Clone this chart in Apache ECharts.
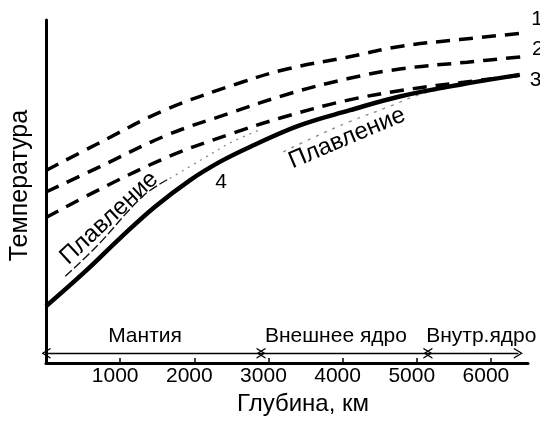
<!DOCTYPE html>
<html>
<head>
<meta charset="utf-8">
<script src="https://cdn.jsdelivr.net/npm/echarts@6/dist/echarts.min.js"></script>
<style>
  html, body { margin: 0; padding: 0; background: #fff; }
  #chart { width: 540px; height: 421px; }
</style>
</head>
<body>
<div id="chart"></div>
<script>
// Depth (km) / temperature profiles through the Earth
const depthTicks = [1000, 2000, 3000, 4000, 5000, 6000];

// curve 1 (dashed)
const curve1Depth = [0, 690, 1600, 2660, 3250, 4060, 4770, 5580, 6490];
const curve1Temp  = [3930, 4470, 5160, 5740, 6000, 6240, 6460, 6600, 6740];
// curve 2 (dashed)
const curve2Depth = [0, 730, 1630, 2480, 3290, 4060, 4770, 5680, 6500];
const curve2Temp  = [3490, 4010, 4650, 5100, 5500, 5800, 6000, 6140, 6260];
// curve 3 (dashed)
const curve3Depth = [0, 730, 1650, 2480, 3160, 4060, 4950, 5580, 6390];
const curve3Temp  = [2970, 3550, 4210, 4670, 5000, 5360, 5600, 5720, 5870];
// curve 4 (solid)
const curve4Depth = [0, 530, 1000, 1470, 1940, 2350, 2750, 3420, 4100, 4770, 5580, 6390];
const curve4Temp  = [1160, 1870, 2550, 3190, 3730, 4110, 4410, 4850, 5160, 5440, 5680, 5880];
// melting curve in the mantle: inked part under the caption, then faint part
const meltMantleDepth = [260, 700, 1310, 1670, 2120, 2480, 2900];
const meltMantleTemp  = [1770, 2410, 3410, 3770, 4170, 4490, 4770];
const meltMantleInked = 4; // number of points in the inked part
// melting curve in the core
const meltCoreDepth = [3200, 3560, 4100, 4640, 5040, 5580];
const meltCoreTemp  = [4310, 4570, 4930, 5240, 5480, 5660];

// shells of the Earth along the depth axis
const shellNames = ['Мантия', 'Внешнее ядро', 'Внутр.ядро'];
const shellBounds = [0, 2900, 5150, 6370];
const shellLabelDepth = [1335, 3910, 5870];

const FONT = '"Liberation Sans", Arial, Helvetica, sans-serif';
const ARROW_T = 200;
const SHELL_LABEL_T = 540;

const pairs = (xs, ys) => xs.map((x, i) => [x, ys[i]]);

// open chevron pointing "up"; markLine rotates it along the line
const chevron = 'path://M5,0 L10,10 L8.7,10 L5,2.6 L1.3,10 L0,10 Z';

const arrowData = shellNames.map((n, i) => [
  { coord: [shellBounds[i], ARROW_T] },
  { coord: [shellBounds[i + 1], ARROW_T] }
]);

const dashed = { color: '#000', width: 3.5, type: [14, 9] };
const SMOOTH = 0.4;
const numLabel = (txt, dy, dist) => ({
  show: true, formatter: txt, fontFamily: FONT, fontSize: 21, color: '#000',
  distance: dist, offset: [0, dy]
});

const chart = echarts.init(document.getElementById('chart'), null, { renderer: 'canvas' });
chart.setOption({
  backgroundColor: '#fff',
  animation: false,
  grid: { left: 46, right: 12, top: 20, bottom: 50 },
  xAxis: {
    type: 'value', min: 0, max: 6500,
    name: 'Глубина, км', nameLocation: 'middle', nameGap: 24,
    nameTextStyle: { fontFamily: FONT, fontSize: 24, color: '#000', padding: [0, 0, 0, 32] },
    axisLine: { show: true, lineStyle: { color: '#000', width: 3 } },
    axisTick: { show: true, inside: true, length: 5, customValues: depthTicks, lineStyle: { color: '#000', width: 1.5 } },
    axisLabel: {
      customValues: depthTicks, formatter: v => String(v),
      fontFamily: FONT, fontSize: 21, color: '#000', margin: 3, padding: [0, 10, 0, 0]
    },
    splitLine: { show: false }
  },
  yAxis: {
    type: 'value', min: 0, max: 7000,
    name: 'Температура', nameLocation: 'middle', nameRotate: 90, nameGap: 13,
    nameTextStyle: { fontFamily: FONT, fontSize: 25, color: '#000', padding: [0, 0, 0, 12] },
    axisLine: { show: true, lineStyle: { color: '#000', width: 3 } },
    axisTick: { show: false },
    axisLabel: { show: false },
    splitLine: { show: false }
  },
  series: [
    {
      name: 'meltMantleInked', type: 'line',
      data: pairs(meltMantleDepth, meltMantleTemp).slice(0, meltMantleInked),
      smooth: SMOOTH, symbol: 'none',
      lineStyle: { color: '#111', width: 1.4, type: [9, 3] }
    },
    {
      name: 'meltMantleFaint', type: 'line',
      data: pairs(meltMantleDepth, meltMantleTemp).slice(meltMantleInked - 1),
      smooth: SMOOTH, symbol: 'none',
      lineStyle: { color: '#888', width: 1.3, type: [2, 5] }
    },
    {
      name: 'meltCore', type: 'line', data: pairs(meltCoreDepth, meltCoreTemp),
      smooth: SMOOTH, symbol: 'none',
      lineStyle: { color: '#888', width: 1.3, type: [3, 6] }
    },
    {
      name: '1', type: 'line', data: pairs(curve1Depth, curve1Temp),
      smooth: SMOOTH, symbol: 'none', lineStyle: dashed,
      endLabel: numLabel('1', -14, 4)
    },
    {
      name: '2', type: 'line', data: pairs(curve2Depth, curve2Temp),
      smooth: SMOOTH, symbol: 'none', lineStyle: dashed,
      endLabel: numLabel('2', -7, 4)
    },
    {
      name: '3', type: 'line', data: pairs(curve3Depth, curve3Temp),
      smooth: SMOOTH, symbol: 'none', lineStyle: dashed,
      endLabel: numLabel('3', 5, 10)
    },
    {
      name: '4', type: 'line', data: pairs(curve4Depth, curve4Temp),
      smooth: SMOOTH, symbol: 'none',
      lineStyle: { color: '#000', width: 4.5 }
    },
    {
      // curve number and melting-curve captions
      type: 'scatter', symbolSize: 0, silent: true,
      itemStyle: { opacity: 1 },
      data: [
        { value: [2360, 3700], label: { formatter: '4', rotate: 0, fontSize: 21 } },
        { value: [850, 2960], label: { formatter: 'Плавление', rotate: 43 } },
        { value: [4060, 4590], label: { formatter: 'Плавление', rotate: 23 } }
      ],
      label: { show: true, position: 'inside', fontFamily: FONT, fontSize: 24, color: '#000', opacity: 1 }
    },
    {
      // shell names above the arrows
      type: 'scatter', symbolSize: 0, silent: true,
      itemStyle: { opacity: 1 },
      data: shellNames.map((n, i) => ({ value: [shellLabelDepth[i], SHELL_LABEL_T], name: n })),
      label: { show: true, position: 'inside', formatter: '{b}', fontFamily: FONT, fontSize: 21, color: '#000', opacity: 1 },
      markLine: {
        silent: true,
        symbol: [chevron, chevron],
        symbolSize: [11, 9],
        lineStyle: { color: '#000', width: 1.3, type: 'solid' },
        label: { show: false },
        data: arrowData
      }
    }
  ]
});
</script>
</body>
</html>
